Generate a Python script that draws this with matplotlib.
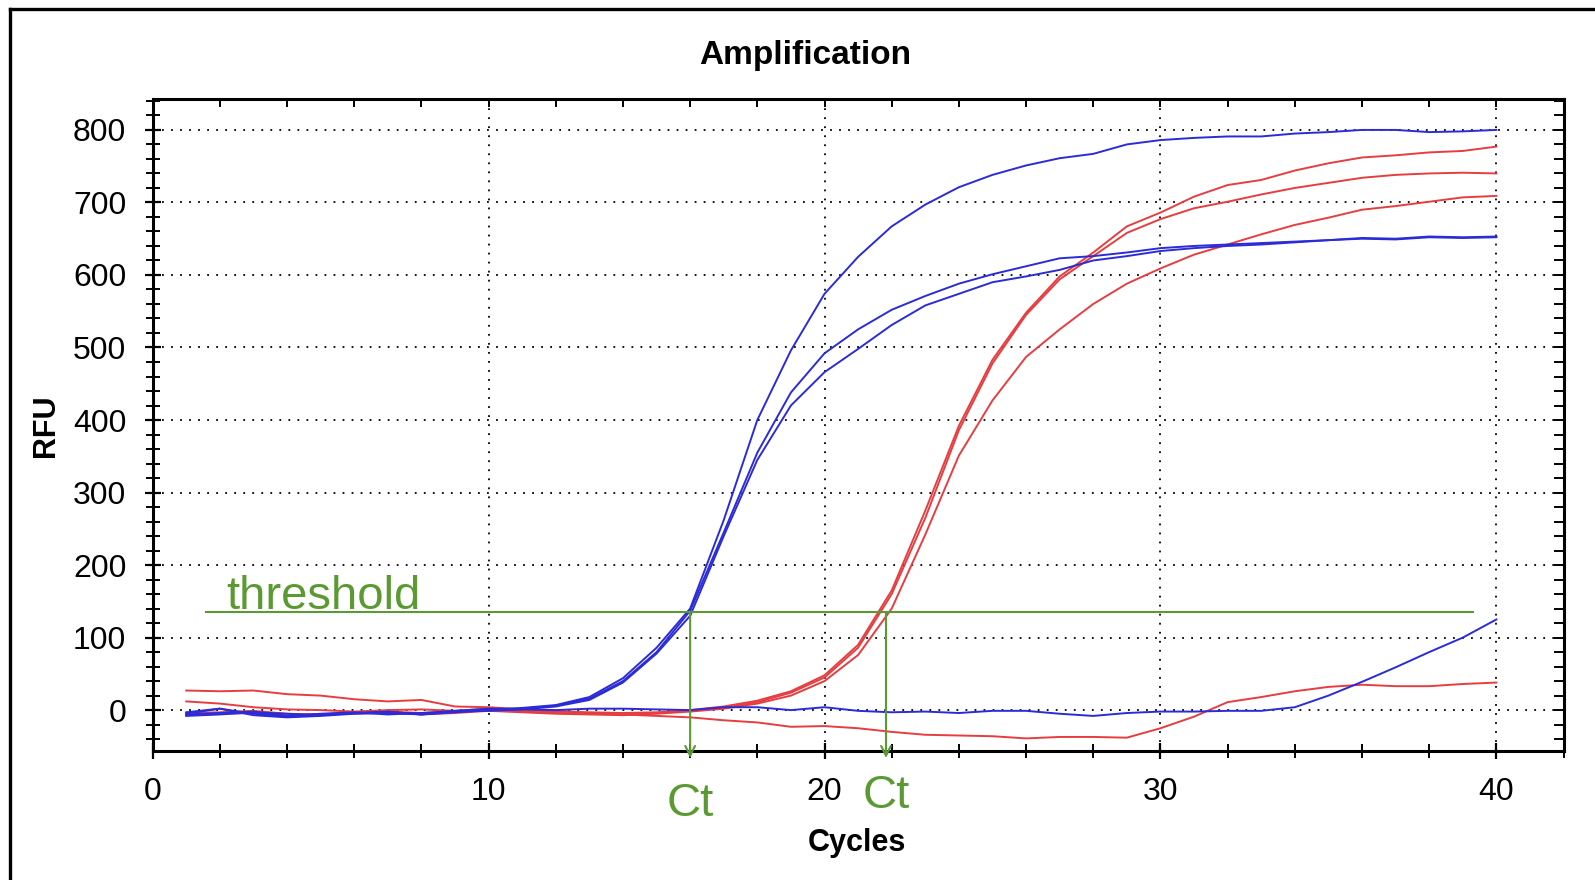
import matplotlib
matplotlib.use("Agg")
import matplotlib.pyplot as plt
from matplotlib.lines import Line2D
from matplotlib.ticker import MultipleLocator

# cycles 1..40
cycles = list(range(1, 41))

# blue samples (early Ct)
blue_hi = [-3, 2, -5, -8, -6, -4, -3, -5, -2, 0,
           3, 7, 18, 44, 86, 140, 262, 400, 496, 574,
           625, 667, 697, 721, 738, 751, 761, 767, 780, 786,
           789, 791, 791, 795, 797, 800, 800, 797, 798, 800]
blue_mid1 = [-6, -4, -2, -8, -5, -3, -6, -4, -1, 2,
             2, 6, 16, 40, 80, 137, 245, 355, 438, 492,
             525, 552, 571, 588, 601, 612, 623, 626, 631, 637,
             640, 642, 644, 646, 648, 651, 650, 653, 652, 653]
blue_mid2 = [-8, -6, -3, -5, -7, -4, -2, -6, -3, 0,
             1, 5, 14, 38, 78, 130, 240, 345, 420, 466,
             498, 531, 558, 574, 590, 598, 607, 620, 626, 633,
             637, 640, 642, 645, 648, 650, 649, 652, 651, 652]
blue_flat = [-5, 2, -7, -10, -8, -5, -4, -6, -2, -1,
             1, 0, 2, 2, 1, 0, 4, 4, 0, 4,
             -1, -3, -2, -4, -1, -1, -5, -8, -4, -2,
             -2, -1, -1, 4, 20, 39, 59, 80, 100, 125]

# red samples (later Ct)
red_hi = [12, 9, 4, 1, 0, -2, 0, 1, -1, 2,
          0, -2, -3, -4, -3, 0, 5, 13, 26, 48,
          90, 165, 275, 392, 483, 548, 598, 631, 667, 686,
          708, 724, 731, 744, 754, 762, 765, 769, 771, 777]
red_mid = [-4, -3, -1, -5, -6, -3, -2, -4, -2, 0,
           -2, -4, -5, -6, -4, -1, 3, 11, 24, 45,
           86, 160, 265, 386, 478, 545, 594, 626, 658, 677,
           692, 701, 711, 720, 727, 734, 738, 740, 741, 740]
red_lo = [-7, -5, -4, -8, -6, -5, -3, -6, -4, -1,
          -3, -5, -6, -7, -5, -2, 2, 9, 20, 40,
          76, 140, 242, 351, 427, 487, 525, 560, 588, 609,
          628, 642, 656, 669, 679, 690, 695, 701, 707, 709]
red_flat = [27, 26, 27, 22, 20, 15, 12, 14, 5, 4,
            1, -1, -4, -6, -8, -10, -14, -17, -23, -22,
            -25, -30, -34, -35, -36, -39, -37, -37, -38, -25,
            -9, 11, 18, 26, 32, 35, 33, 33, 36, 38]

threshold = 135
threshold_span = [1.6, 39.3]
ct_values = [16.0, 21.83]

BLUE = "#2b2bd8"
RED = "#e63e40"
GREEN = "#5a9a31"

fig = plt.figure(figsize=(15.95, 8.80), dpi=100)
ax = fig.add_axes([0.0957, 0.1469, 0.8846, 0.7409])

for ys in [red_hi, red_mid, red_lo, red_flat]:
    ax.plot(cycles, ys, color=RED, lw=1.4)
for ys in [blue_hi, blue_mid1, blue_mid2, blue_flat]:
    ax.plot(cycles, ys, color=BLUE, lw=1.4)

ax.set_xlim(0, 42)
ax.set_ylim(-56, 843)
ax.xaxis.set_major_locator(MultipleLocator(10))
ax.xaxis.set_minor_locator(MultipleLocator(2))
ax.yaxis.set_major_locator(MultipleLocator(100))
ax.yaxis.set_minor_locator(MultipleLocator(20))

ax.grid(True, which="major", color="black", lw=1.3, linestyle=(0, (1, 4)))

for s in ax.spines.values():
    s.set_linewidth(2.2)
    s.set_color("black")

ax.tick_params(axis="both", which="major", direction="inout", length=12, width=1.6, pad=13)
ax.tick_params(axis="both", which="minor", direction="inout", length=10, width=1.4)
ax.tick_params(axis="both", labelsize=23)
for lab in ax.get_xticklabels() + ax.get_yticklabels():
    lab.set_family(["Liberation Sans", "DejaVu Sans"])

# inward ticks on top and right
sec_y = ax.secondary_yaxis("right")
sec_y.yaxis.set_major_locator(MultipleLocator(100))
sec_y.yaxis.set_minor_locator(MultipleLocator(20))
sec_y.tick_params(which="both", direction="in", length=7, width=1.4, labelright=False)
sec_x = ax.secondary_xaxis("top")
sec_x.xaxis.set_major_locator(MultipleLocator(10))
sec_x.xaxis.set_minor_locator(MultipleLocator(2))
sec_x.tick_params(which="both", direction="in", length=6, width=1.4, labeltop=False)

# threshold and Ct markers
ax.plot(threshold_span, [threshold, threshold], color=GREEN, lw=1.5)
ax.text(2.18, 140, "threshold", color=GREEN, fontsize=34, family="Liberation Sans",
        va="baseline", ha="left")
ct_label_y = [-129, -118]
for ct, ly in zip(ct_values, ct_label_y):
    ax.annotate("", xy=(ct, -66), xytext=(ct, threshold),
                arrowprops=dict(arrowstyle="->,head_length=0.7,head_width=0.35",
                                color=GREEN, lw=1.5, shrinkA=0, shrinkB=0),
                annotation_clip=False)
    ax.text(ct, ly, "Ct", color=GREEN, fontsize=34, family="Liberation Sans",
            ha="center", va="center", clip_on=False)

fig.text(0.505, 0.937, "Amplification", ha="center", va="center",
         fontsize=24, fontweight="bold", family="Liberation Sans")
fig.text(0.537, 0.042, "Cycles", ha="center", va="center", fontsize=22,
         fontweight="bold", family="Liberation Sans")
fig.text(0.0287, 0.5168, "RFU", ha="center", va="center", rotation=90, fontsize=22,
         fontweight="bold", family="Liberation Sans")

# window frame
fig.add_artist(Line2D([10 / 1595, 10 / 1595], [0, 1 - 9 / 880], color="black", lw=2.4,
                      transform=fig.transFigure))
fig.add_artist(Line2D([10 / 1595, 1], [1 - 9 / 880, 1 - 9 / 880], color="black", lw=2.4,
                      transform=fig.transFigure))

fig.savefig("out.png", dpi=100)
